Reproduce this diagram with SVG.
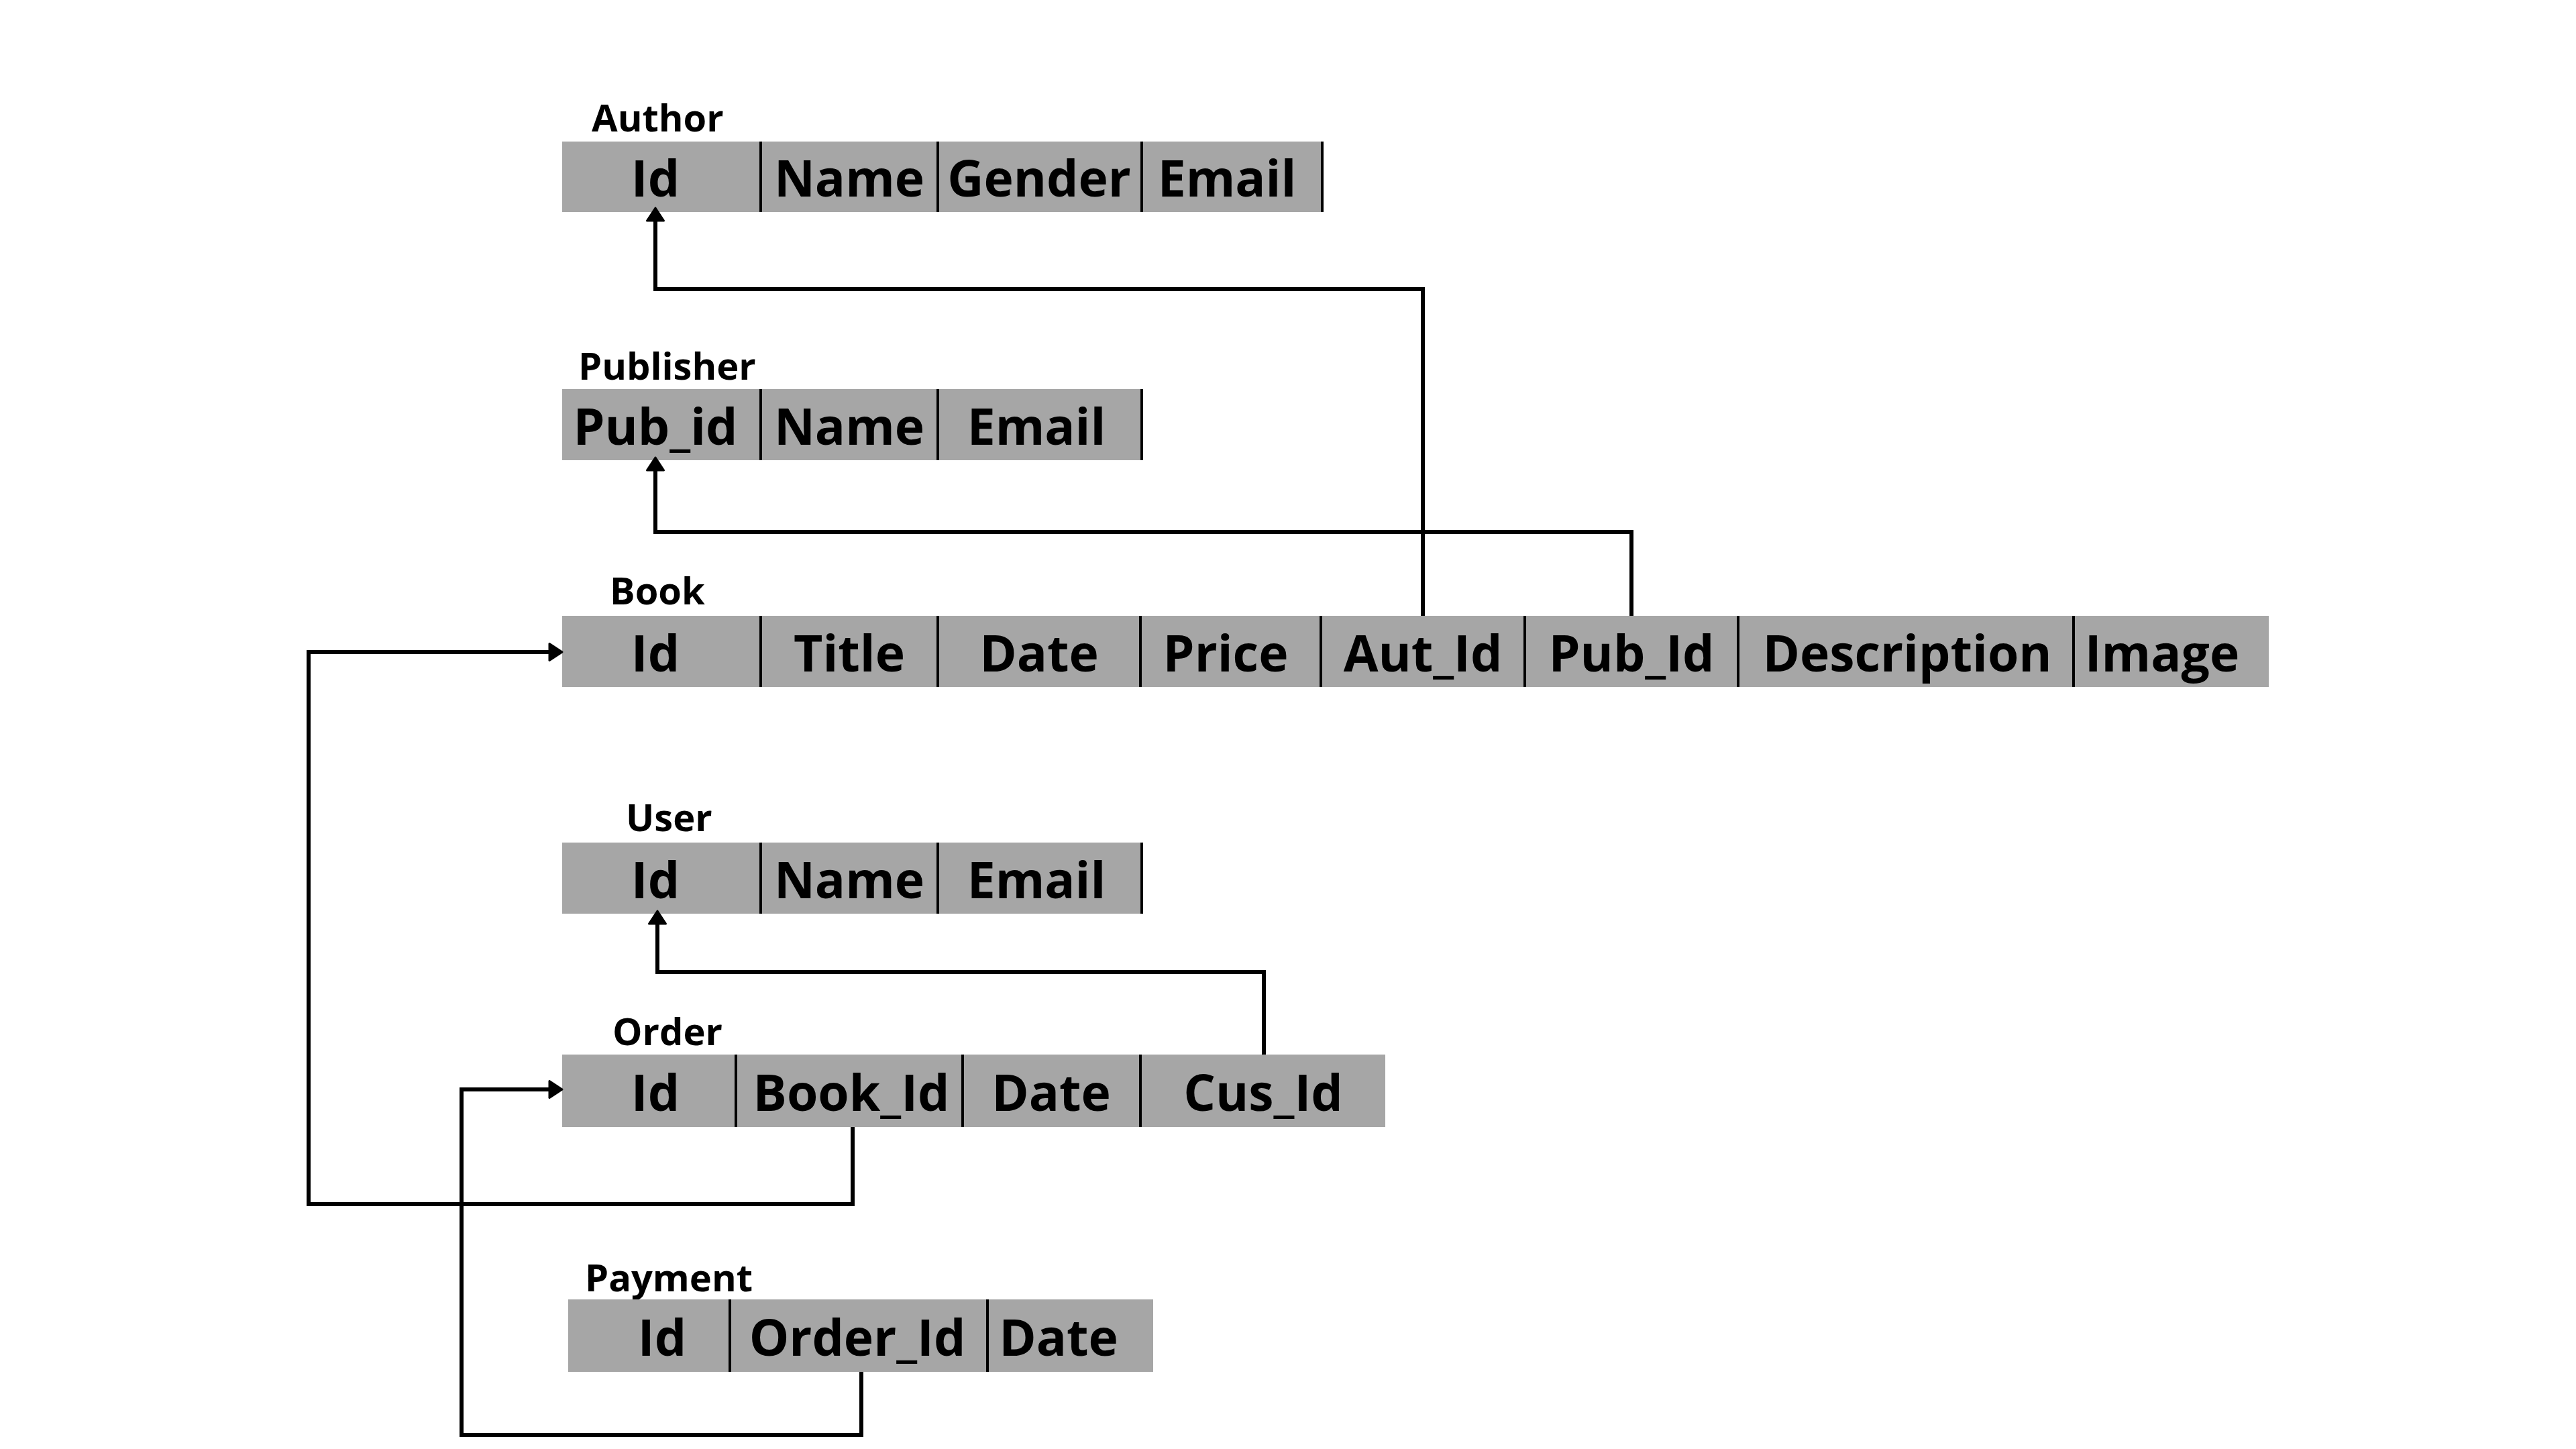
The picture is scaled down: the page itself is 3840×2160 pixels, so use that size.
<svg xmlns="http://www.w3.org/2000/svg" width="3840" height="2160" viewBox="0 0 3840 2160">
<style>
.bg{fill:#ffffff}
.row{fill:#a6a6a6}
.div{stroke:#000;stroke-width:4}
.title{font-family:"Open Sans","Liberation Sans",sans-serif;font-weight:700;font-size:56px;fill:#000}
.cell{font-family:"Open Sans","Liberation Sans",sans-serif;font-weight:700;font-size:75px;fill:#000;text-anchor:middle}
.link{fill:none;stroke:#000;stroke-width:6;stroke-linejoin:miter}
</style>
<defs>
<marker id="arr" viewBox="-2 -2 24 29" refX="0" refY="12.5" markerWidth="24" markerHeight="29" markerUnits="userSpaceOnUse" orient="auto">
<path d="M0,0 L19,12.5 L0,25 z" fill="#000" stroke="#000" stroke-width="3" stroke-linejoin="round"/>
</marker>
</defs>
<rect class="bg" x="0" y="0" width="3840" height="2160"/>

<g id="author">
<text class="title" x="882" y="196">Author</text>
<rect class="row" x="838" y="211" width="1133" height="105"/>
<line class="div" x1="1134" y1="211" x2="1134" y2="316"/>
<line class="div" x1="1398" y1="211" x2="1398" y2="316"/>
<line class="div" x1="1702" y1="211" x2="1702" y2="316"/>
<line class="div" x1="1971" y1="211" x2="1971" y2="316"/>
<text class="cell" x="977" y="293">Id</text>
<text class="cell" x="1266" y="293">Name</text>
<text class="cell" x="1549" y="293">Gender</text>
<text class="cell" x="1829" y="293">Email</text>
</g>

<g id="publisher">
<text class="title" x="862" y="566">Publisher</text>
<rect class="row" x="838" y="580" width="864" height="106"/>
<line class="div" x1="1134" y1="580" x2="1134" y2="686"/>
<line class="div" x1="1398" y1="580" x2="1398" y2="686"/>
<line class="div" x1="1702" y1="580" x2="1702" y2="686"/>
<text class="cell" x="977" y="663">Pub_id</text>
<text class="cell" x="1266" y="663">Name</text>
<text class="cell" x="1545" y="663">Email</text>
</g>

<g id="book">
<text class="title" x="909" y="901">Book</text>
<rect class="row" x="838" y="918" width="2544" height="106"/>
<line class="div" x1="1134" y1="918" x2="1134" y2="1024"/>
<line class="div" x1="1398" y1="918" x2="1398" y2="1024"/>
<line class="div" x1="1700" y1="918" x2="1700" y2="1024"/>
<line class="div" x1="1969" y1="918" x2="1969" y2="1024"/>
<line class="div" x1="2273" y1="918" x2="2273" y2="1024"/>
<line class="div" x1="2591" y1="918" x2="2591" y2="1024"/>
<line class="div" x1="3091" y1="918" x2="3091" y2="1024"/>
<text class="cell" x="977" y="1001">Id</text>
<text class="cell" x="1266" y="1001">Title</text>
<text class="cell" x="1549" y="1001">Date</text>
<text class="cell" x="1827" y="1001">Price</text>
<text class="cell" x="2121" y="1001">Aut_Id</text>
<text class="cell" x="2432" y="1001">Pub_Id</text>
<text class="cell" x="2843" y="1001">Description</text>
<text class="cell" x="3223" y="1001">Image</text>
</g>

<g id="user">
<text class="title" x="933" y="1239">User</text>
<rect class="row" x="838" y="1256" width="864" height="106"/>
<line class="div" x1="1134" y1="1256" x2="1134" y2="1362"/>
<line class="div" x1="1398" y1="1256" x2="1398" y2="1362"/>
<line class="div" x1="1702" y1="1256" x2="1702" y2="1362"/>
<text class="cell" x="977" y="1339">Id</text>
<text class="cell" x="1266" y="1339">Name</text>
<text class="cell" x="1545" y="1339">Email</text>
</g>

<g id="order">
<text class="title" x="913" y="1558">Order</text>
<rect class="row" x="838" y="1572" width="1227" height="108"/>
<line class="div" x1="1097" y1="1572" x2="1097" y2="1680"/>
<line class="div" x1="1435" y1="1572" x2="1435" y2="1680"/>
<line class="div" x1="1700" y1="1572" x2="1700" y2="1680"/>
<text class="cell" x="977" y="1656">Id</text>
<text class="cell" x="1269" y="1656">Book_Id</text>
<text class="cell" x="1567" y="1656">Date</text>
<text class="cell" x="1883" y="1656">Cus_Id</text>
</g>

<g id="payment">
<text class="title" x="872" y="1925">Payment</text>
<rect class="row" x="847" y="1937" width="872" height="108"/>
<line class="div" x1="1088" y1="1937" x2="1088" y2="2045"/>
<line class="div" x1="1472" y1="1937" x2="1472" y2="2045"/>
<text class="cell" x="987" y="2021">Id</text>
<text class="cell" x="1278" y="2021">Order_Id</text>
<text class="cell" x="1578" y="2021">Date</text>
</g>

<g id="connectors">
<path class="link" d="M2121,918 V431 H977 V329" marker-end="url(#arr)"/>
<path class="link" d="M2432,918 V793 H977 V701" marker-end="url(#arr)"/>
<path class="link" d="M1271,1680 V1795 H460 V972 H819" marker-end="url(#arr)"/>
<path class="link" d="M1884,1572 V1449 H980 V1377" marker-end="url(#arr)"/>
<path class="link" d="M1284,2045 V2139 H688 V1624 H819" marker-end="url(#arr)"/>
</g>
</svg>
